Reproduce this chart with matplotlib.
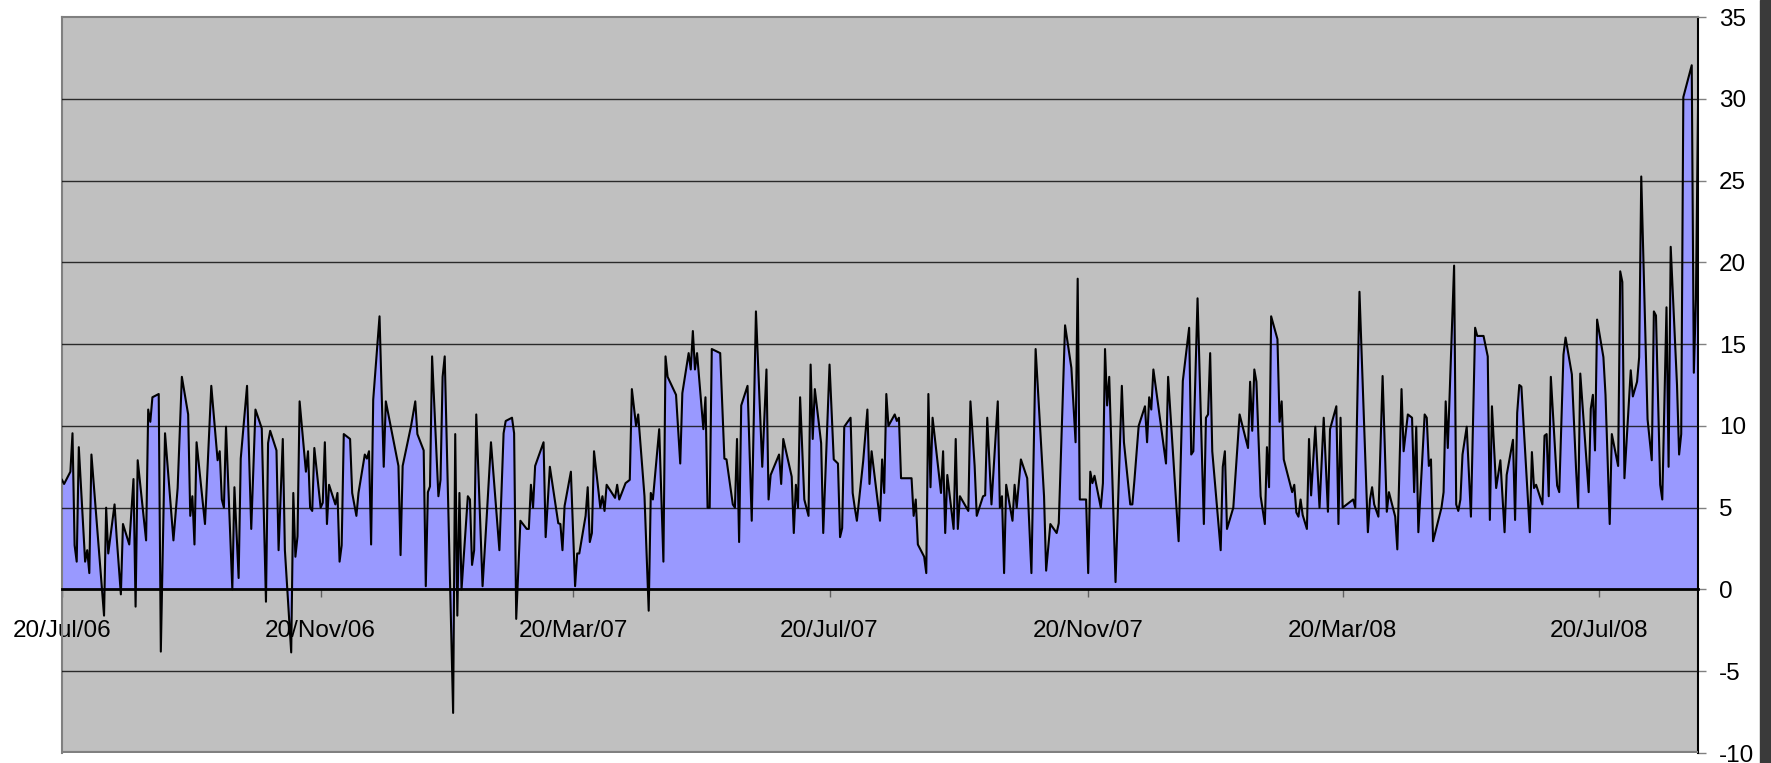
import datetime as dt
import matplotlib
matplotlib.use("Agg")
import matplotlib.pyplot as plt
import matplotlib.dates as mdates
from matplotlib.patches import Rectangle

plt.rcParams['font.family'] = ['Liberation Sans', 'DejaVu Sans']
plt.rcParams['axes.unicode_minus'] = False

# day offsets counted from 20/Jul/2006 and the value
start = dt.date(2006, 7, 20)

days = [
    0, 1, 4, 5, 6, 7, 8, 11, 12, 13, 14, 20, 21, 22, 25, 26, 28, 29, 32, 34,
    35, 36, 40, 41, 42, 43, 46, 47, 49, 53, 55, 57, 60, 61, 62, 63, 64, 68, 71, 74,
    75, 76, 77, 78, 81, 82, 84, 85, 88, 90, 92, 95,
    97, 98, 99, 102, 103, 105, 106, 109, 110, 111, 112, 113, 116, 117, 118, 119, 120, 123,
    124, 125, 126, 127, 130, 131, 132, 133, 134, 137, 138, 140, 141, 144, 145, 146, 147, 148,
    151, 153, 154, 160, 161, 162, 166, 168, 169, 172, 173, 174, 175, 176, 179, 180, 181, 182,
    186, 187, 188, 189, 190, 193,
    194, 195, 196, 197, 200, 202, 204, 208, 210, 211, 214, 215, 216, 218, 221, 222, 223, 224,
    225, 229, 230, 232, 236, 237, 238, 239, 242, 244, 245, 246, 249, 250, 251, 252, 253, 256,
    257, 258, 259, 263, 264, 265, 268, 270, 271, 273, 274, 277, 279, 280, 281, 284, 286, 287,
    288,
    292, 294, 295, 298, 299, 300, 301, 302, 305, 306, 307, 308, 309, 313, 315, 316, 319, 320,
    321, 322, 323, 326, 328, 330, 333, 335, 336, 337, 341, 342, 343, 347, 348, 349, 350, 351,
    353, 355, 356, 357, 358, 361, 362, 365, 367, 369, 370, 371, 372, 375, 376, 377, 378, 381,
    383, 384, 385, 389,
    390, 391, 392, 393, 396, 397, 398, 399, 404, 405, 406, 407, 410, 411, 412, 413, 414, 418,
    419, 420, 421, 424, 425, 426, 427, 431, 432, 434, 435, 438, 439, 440, 442, 445, 446, 447,
    448, 449, 452, 453, 454, 456, 459, 461, 463, 466, 467, 468, 470, 473, 474, 477, 480, 482,
    483, 484,
    487, 488, 489, 490, 491, 494, 495, 496, 497, 498, 501, 504, 505, 508, 509, 510, 512, 515,
    516, 517, 518, 519, 525, 526, 531, 533, 536, 537, 538, 540, 543, 544, 545, 546, 547, 551,
    552, 553, 554, 557, 560, 564, 565, 566, 567, 568, 570, 572, 573, 574, 575, 578, 579, 580,
    581,
    585, 586, 587, 588, 589, 590, 592, 593, 594, 596, 598, 600, 602, 603, 606, 607, 608, 609,
    614, 615, 617, 621, 622, 623, 624, 626, 628, 630, 631, 634, 635, 637, 638, 640, 642, 643,
    644, 645, 648, 649, 650, 651, 652, 656, 657, 658, 659, 662, 663, 664, 665, 666, 668, 670,
    672, 673, 676, 678, 679, 680,
    682, 684, 686, 687, 690, 691, 692, 693, 694, 698, 699, 700, 701, 704, 705, 706, 707, 708,
    711, 712, 714, 715, 718, 720, 721, 722, 726, 727, 728, 729, 730, 733, 734, 736, 737, 740,
    741, 742, 743, 746, 747, 749, 750, 751, 754, 756, 757, 758, 760, 761, 763, 764, 765, 768,
    769, 770, 771, 775, 776, 777, 778,
]

values = [
    6.7, 6.45, 7.2, 9.55, 2.7, 1.7, 8.7, 1.7, 2.4, 1.0, 8.25, -1.6, 5.0, 2.2, 5.2, 3.2, -0.3, 4.0, 2.75, 6.75,
    -1.05, 7.9, 3.0, 11.0, 10.25, 11.75, 11.95, -3.8, 9.55, 3.0, 6.2, 13.0, 10.7, 4.5, 5.7, 2.75, 9.0, 4.0, 12.45, 7.9,
    8.45, 5.5, 5.0, 9.95, 0.0, 6.25, 0.7, 8.0, 12.45, 3.7, 11.0, 9.85,
    -0.75, 8.95, 9.7, 8.5, 2.4, 9.2, 2.4, -3.85, 5.9, 2.0, 3.25, 11.5, 7.2, 8.45, 5.0, 4.8, 8.65, 5.0,
    5.3, 9.0, 4.0, 6.4, 5.2, 5.9, 1.7, 2.7, 9.5, 9.2, 5.9, 4.5, 5.9, 8.25, 8.0, 8.45, 2.75, 11.6,
    16.7, 7.5, 11.5, 7.55, 2.1, 7.55, 10.0, 11.5, 9.5, 8.5, 0.2, 5.95, 6.3, 14.25, 5.7, 6.7, 13.0, 14.25,
    -7.55, 9.5, -1.6, 5.9, 0.0, 5.7,
    5.5, 1.5, 2.4, 10.7, 0.2, 4.5, 9.0, 2.4, 9.55, 10.3, 10.5, 9.55, -1.8, 4.2, 3.7, 3.7, 6.4, 5.0,
    7.55, 9.0, 3.2, 7.5, 4.05, 4.0, 2.4, 5.1, 7.2, 0.2, 2.2, 2.2, 4.5, 6.25, 2.9, 3.45, 8.45, 5.0,
    5.7, 4.8, 6.4, 5.6, 6.4, 5.5, 6.5, 6.7, 12.25, 10.0, 10.7, 5.7, -1.3, 5.9, 5.5, 9.8, 1.7, 14.25,
    13.0,
    11.9, 7.7, 12.0, 14.45, 13.45, 15.8, 13.45, 14.45, 9.8, 11.75, 5.0, 5.0, 14.7, 14.45, 8.0, 7.95, 5.2, 5.0,
    9.2, 2.9, 11.25, 12.45, 4.2, 17.0, 7.5, 13.45, 5.5, 7.0, 8.25, 6.45, 9.2, 6.9, 3.45, 6.4, 5.0, 11.75,
    5.5, 4.5, 13.75, 9.2, 12.25, 8.95, 3.45, 13.75, 7.95, 7.7, 3.2, 3.75, 9.95, 10.5, 5.9, 5.0, 4.2, 7.85,
    11.0, 6.45, 8.45, 4.2,
    7.95, 5.9, 11.95, 10.0, 10.7, 10.3, 10.5, 6.8, 6.8, 4.5, 5.5, 2.75, 2.0, 1.0, 11.95, 6.25, 10.5, 5.9,
    8.45, 3.45, 7.0, 3.7, 9.2, 3.7, 5.7, 4.8, 11.5, 7.55, 4.5, 5.7, 5.75, 10.5, 5.2, 11.5, 5.0, 5.7,
    1.0, 6.4, 4.2, 6.4, 5.0, 7.95, 6.8, 1.0, 14.7, 7.95, 5.7, 1.15, 4.0, 3.45, 4.05, 16.15, 13.55, 9.0,
    19.0, 5.5,
    5.5, 1.0, 7.2, 6.5, 6.95, 5.0, 6.5, 14.7, 11.25, 13.0, 0.45, 12.45, 9.0, 5.2, 5.2, 6.7, 10.0, 11.2,
    9.0, 11.75, 11.0, 13.45, 7.7, 13.0, 2.95, 12.75, 16.0, 8.25, 8.45, 17.8, 4.0, 10.5, 10.7, 14.45, 8.45, 2.4,
    7.5, 8.45, 3.7, 5.0, 10.7, 8.65, 12.7, 9.7, 13.45, 12.7, 5.7, 4.0, 8.7, 6.25, 16.7, 15.3, 10.25, 11.5,
    7.95,
    5.95, 6.4, 4.7, 4.45, 5.5, 4.55, 3.7, 9.2, 5.75, 9.95, 5.0, 10.5, 4.75, 9.8, 11.2, 4.0, 10.5, 5.0,
    5.5, 5.0, 18.2, 3.5, 5.5, 6.25, 5.2, 4.45, 13.05, 4.75, 5.95, 4.45, 2.45, 12.25, 8.45, 10.7, 10.5, 5.95,
    9.95, 3.5, 10.7, 10.5, 7.55, 7.95, 2.95, 5.0, 5.95, 11.5, 8.65, 19.8, 5.2, 4.8, 5.5, 8.25, 9.95, 4.45,
    16.0, 15.5, 15.5, 14.25, 4.25, 11.2,
    6.2, 7.9, 3.5, 7.0, 9.15, 4.25, 10.8, 12.5, 12.4, 3.5, 8.4, 6.2, 6.4, 5.2, 9.4, 9.5, 5.7, 13.0,
    6.35, 5.95, 14.35, 15.4, 13.15, 7.35, 5.0, 13.2, 5.95, 11.05, 11.9, 8.5, 16.5, 14.2, 11.9, 4.0, 9.5, 7.55,
    19.45, 18.8, 6.8, 13.4, 11.8, 12.7, 14.2, 25.25, 10.4, 7.9, 17.0, 16.75, 6.4, 5.5, 17.25, 7.5, 20.95, 12.5,
    8.25, 9.5, 30.1, 32.05, 13.25, 17.75, 29.5,
]

y_ticks = list(range(-10, 40, 5))

dates = [start + dt.timedelta(days=d) for d in days]

fig = plt.figure(figsize=(17.71, 7.63), dpi=100)
ax = fig.add_axes([0.035, 0.0131, 0.9238, 0.9646])
ax.set_facecolor('#c0c0c0')

# area + outline
ax.fill_between(dates, values, 0, color='#9999ff', linewidth=0, zorder=2)
ax.plot(dates, values, color='black', linewidth=1.5, zorder=4)

# horizontal gridlines
for v in y_ticks:
    if v not in (-10, 0, 35):
        ax.axhline(v, color='#101010', linewidth=1.0, alpha=0.85, zorder=3)

ax.set_xlim(start, start + dt.timedelta(days=days[-1]))
ax.set_ylim(-10, 35)

# x axis sits on the zero line
ax.spines['bottom'].set_position(('data', 0))
ax.spines['bottom'].set_color('black')
ax.spines['bottom'].set_linewidth(2)
ax.spines['bottom'].set_zorder(5)
ax.spines['left'].set_color('#808080')
ax.spines['left'].set_linewidth(1.5)
ax.spines['top'].set_color('#808080')
ax.spines['top'].set_linewidth(1.5)
ax.spines['right'].set_color('black')
ax.spines['right'].set_linewidth(1.5)

# gray frame line at the real bottom of the plot area
ax.axhline(-10, color='#808080', linewidth=3, zorder=5)

ax.xaxis.set_major_locator(mdates.MonthLocator(bymonth=[3, 7, 11], bymonthday=20))
ax.xaxis.set_major_formatter(mdates.DateFormatter('%d/%b/%y'))
ax.tick_params(axis='x', direction='out', length=6, width=1, color='#606060',
               pad=16, labelsize=17.5)

ax.yaxis.tick_right()
ax.set_yticks(y_ticks)
ax.tick_params(axis='y', direction='out', length=6, width=1, color='#808080',
               pad=9, labelsize=17.5)

# dark strip at the right edge of the image
fig.patches.append(Rectangle((1760 / 1771, 0), 11 / 1771, 1, transform=fig.transFigure,
                             color='#3a3a3a', zorder=0))

fig.savefig('out.png', dpi=100)
